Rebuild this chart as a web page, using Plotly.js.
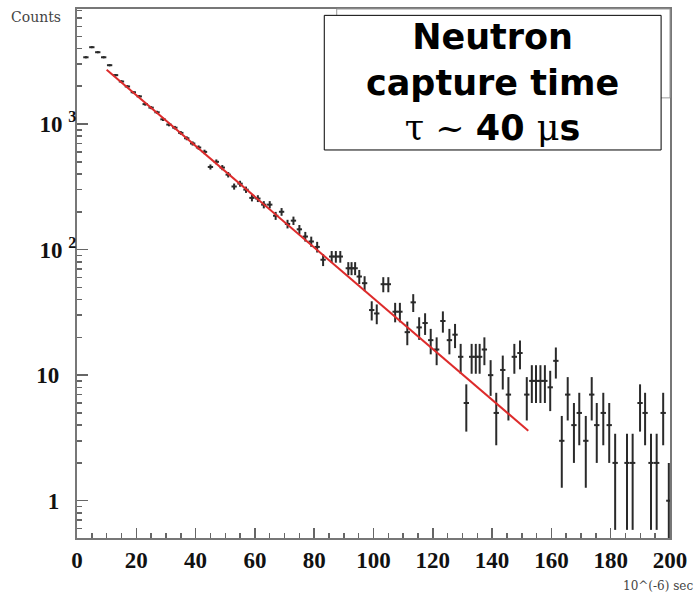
<!DOCTYPE html>
<html><head><meta charset="utf-8">
<script src="https://cdn.plot.ly/plotly-3.0.1.min.js"></script>
<style>body{margin:0;background:#fff}#chart{width:698px;height:597px}</style>
</head><body><div id="chart"></div>
<script>
// bin centres (10^-6 s) and counts
const timeUs = [3,5,7,9,11,13,15,17,19,21,23,25,27,29,31,33,35,37,39,41,
  43,45,47,49,51,53,55,57,59,61,63,65,67,69,71,73,75,77,79,81,83,
  85.9,87.3,88.8,
  91.5,92.6,93.8,95.2,97,99.4,101.1,103.3,105,107.3,
  108.9,111.4,113.4,115.4,117.4,119.3,121.3,123.4,125.6,127.5,
  129.4,131.3,133.1,134.5,135.8,137.4,139.5,141.4,143.6,145.5,
  147.5,149.4,151.7,153.4,154.8,156.3,157.8,159.6,161.5,163.5,
  165.5,167.6,169.4,171.6,173.6,175.3,177.5,179.5,181.5,185.5,
  187.4,189.9,191.6,193.6,195.5,197.7,199.6];
const counts = [3400,4090,3730,3400,2940,2450,2180,1990,1790,1660,
  1440,1350,1240,1090,990,935,850,770,700,650,
  600,455,500,450,395,318,335,300,258,255,
  228,228,186,200,160,170,145,127,116,105,83,
  88,88,88,
  71,71,71,61,54,33,31,53,53,32,
  32,22,38,24,26,19,16,27,19,21,
  14,6,14,14,14,16,10,5,11,7,
  14,15,7,9,9,9,9,8,13,3,
  7,4,5,3,7,4,5,4,2,2,
  2,6,5,2,2,5,1];
// exponential fit (end points)
const fitTimeUs = [10, 152.2];
const fitCounts = [2700, 3.61];

const xTickVals = [0,20,40,60,80,100,120,140,160,180,200];
const yTickVals = [1, 10, 100, 1000];
const yTickText = ['1\u00a0\u00a0\u00a0', '10\u00a0\u00a0\u00a0', '10 <sup>2</sup>', '10 <sup>3</sup>'];

const poissonErr = counts.map(c => Math.sqrt(c));
const halfBin = timeUs.map(() => 0.9);

const tickFont = {family: 'Liberation Serif', size: 23, weight: 'bold', color: '#111'};

const data = [
  {
    x: timeUs, y: counts, type: 'scatter', mode: 'markers',
    marker: {size: 2, color: '#2a2a2a'},
    error_y: {type: 'data', array: poissonErr, symmetric: true, color: '#2a2a2a', thickness: 2, width: 0},
    error_x: {type: 'data', array: halfBin, symmetric: true, color: '#2a2a2a', thickness: 2, width: 0},
    hoverinfo: 'x+y'
  },
  {
    x: fitTimeUs, y: fitCounts, type: 'scatter', mode: 'lines',
    line: {color: '#dd2b2b', width: 2}
  }
];

const layout = {
  width: 698, height: 597,
  margin: {l: 77, r: 28, t: 9, b: 59},
  paper_bgcolor: '#fff', plot_bgcolor: '#fff',
  showlegend: false,
  xaxis: {
    range: [0, 200], tickvals: xTickVals, ticks: 'inside', ticklen: 10, tickwidth: 1.5, tickcolor: '#666',
    minor: {dtick: 5, ticks: 'inside', ticklen: 5, tickcolor: '#666', tickwidth: 1.5},
    showline: true, linecolor: '#777', linewidth: 2, mirror: true,
    showgrid: false, zeroline: false, tickfont: tickFont, ticklabelstandoff: 0
  },
  yaxis: {
    type: 'log', range: [-0.297, 3.916], tickvals: yTickVals, ticktext: yTickText,
    ticks: 'inside', ticklen: 11, tickwidth: 1.5, tickcolor: '#666',
    minor: {dtick: 'D1', ticks: 'inside', ticklen: 5, tickcolor: '#666', tickwidth: 1.5},
    showline: true, linecolor: '#777', linewidth: 2, mirror: true,
    showgrid: false, zeroline: false, tickfont: tickFont, ticklabelstandoff: -6
  },
  shapes: [
    {type: 'rect', xref: 'paper', yref: 'paper', x0: 0.438, x1: 1, y0: 0.832, y1: 1,
     line: {color: '#999', width: 1}, fillcolor: 'rgba(0,0,0,0)'},
    {type: 'rect', xref: 'paper', yref: 'paper', x0: 0.417, x1: 0.985, y0: 0.7335, y1: 0.988,
     line: {color: '#000', width: 1}, fillcolor: '#fff'}
  ],
  annotations: [
    {xref: 'paper', yref: 'paper', x: 0.701, y: 0.861, xanchor: 'center', yanchor: 'middle', showarrow: false,
     text: 'Neutron<br>capture time<br><span style="font-family:DejaVu Serif;font-weight:normal">τ ~ </span>40 <span style="font-family:DejaVu Serif;font-weight:normal">μ</span>s',
     font: {family: 'DejaVu Sans', size: 35, weight: 'bold', color: '#000'}},
    {xref: 'paper', yref: 'paper', x: -0.115, y: 1.004, xanchor: 'left', yanchor: 'top', showarrow: false,
     text: 'Counts', font: {family: 'DejaVu Serif', size: 14, color: '#444'}},
    {xref: 'paper', yref: 'paper', x: 1.042, y: -0.074, xanchor: 'right', yanchor: 'top', showarrow: false,
     text: '10^(-6) sec', font: {family: 'DejaVu Serif', size: 12, color: '#444'}}
  ]
};

Plotly.newPlot('chart', data, layout, {displayModeBar: false, staticPlot: true});
</script>
</body></html>
